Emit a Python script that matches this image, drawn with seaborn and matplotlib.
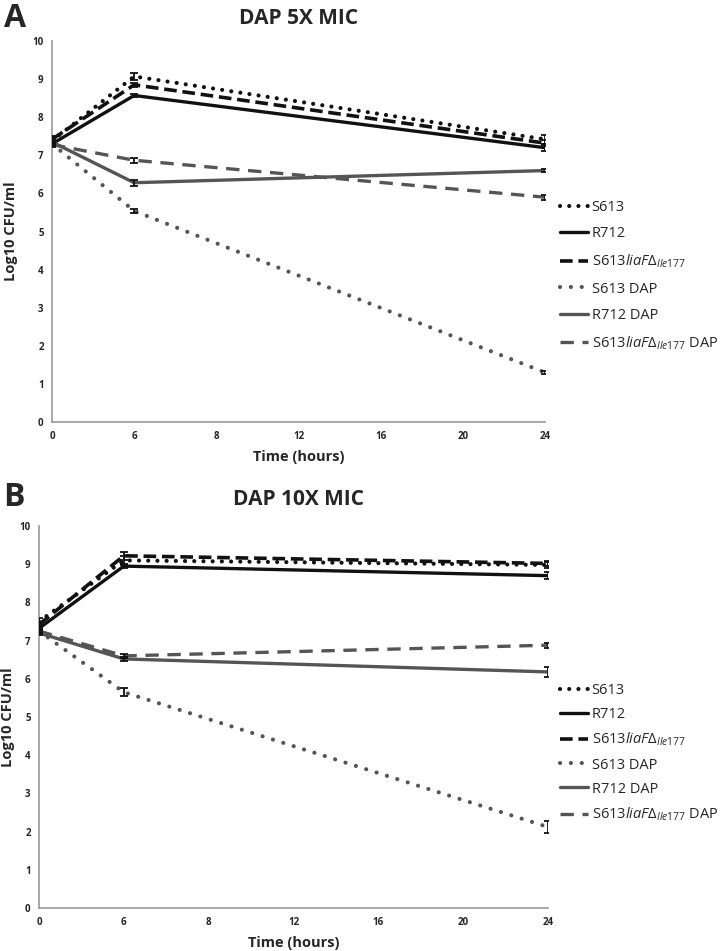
import pandas as pd
import matplotlib.pyplot as plt
import seaborn as sns

## Data

hour_ticks = [0, 6, 8, 12, 16, 20, 24]
sample_hours = [0, 6, 24]

series_names = [
    "S613",
    "R712",
    r"S613$\mathit{liaF\Delta}_{\mathit{Ile177}}$",
    "S613 DAP",
    "R712 DAP",
    r"S613$\mathit{liaF\Delta}_{\mathit{Ile177}}$ DAP",
]

# panel A, DAP 5X MIC
a_s613 = [7.38, 9.07, 7.42]
a_r712 = [7.30, 8.57, 7.20]
a_liaf = [7.42, 8.85, 7.32]
a_s613_dap = [7.30, 5.54, 1.30]
a_r712_dap = [7.35, 6.28, 6.60]
a_liaf_dap = [7.28, 6.87, 5.90]

a_s613_err = [0.08, 0.10, 0.12]
a_r712_err = [0.06, 0.05, 0.10]
a_liaf_err = [0.08, 0.05, 0.08]
a_s613_dap_err = [0.05, 0.05, 0.03]
a_r712_dap_err = [0.05, 0.08, 0.05]
a_liaf_dap_err = [0.05, 0.07, 0.07]

# panel B, DAP 10X MIC
b_s613 = [7.50, 9.10, 8.98]
b_r712 = [7.32, 8.95, 8.70]
b_liaf = [7.42, 9.22, 9.02]
b_s613_dap = [7.25, 5.65, 2.12]
b_r712_dap = [7.20, 6.52, 6.18]
b_liaf_dap = [7.25, 6.60, 6.88]

b_s613_err = [0.08, 0.12, 0.08]
b_r712_err = [0.05, 0.06, 0.10]
b_liaf_err = [0.06, 0.10, 0.06]
b_s613_dap_err = [0.05, 0.10, 0.15]
b_r712_dap_err = [0.05, 0.06, 0.12]
b_liaf_dap_err = [0.05, 0.05, 0.07]

styles = [
    dict(color="#111111", lw=3.0, dashes=(0.01, 2.2), dash_capstyle="round"),
    dict(color="#111111", lw=2.4),
    dict(color="#111111", lw=2.6, dashes=(3.5, 1.6)),
    dict(color="#555555", lw=3.0, dashes=(0.01, 2.6), dash_capstyle="round"),
    dict(color="#555555", lw=2.4),
    dict(color="#555555", lw=2.4, dashes=(4.0, 2.6)),
]


def draw_panel(ax, values, errors, title, letter, legend_y, spacing, ylab_x):
    xpos = [hour_ticks.index(h) for h in sample_hours]
    for name, vals, errs, st in zip(series_names, values, errors, styles):
        df = pd.DataFrame({"pos": xpos, "cfu": vals})
        st = dict(st)
        dashes = st.pop("dashes", None)
        sns.lineplot(data=df, x="pos", y="cfu", ax=ax, label=name, **st)
        if dashes is not None:
            ax.lines[-1].set_dashes(dashes)
        ax.errorbar(xpos, vals, yerr=errs, fmt="none", ecolor="#111111",
                    elinewidth=1.3, capsize=3, capthick=1.3, zorder=5)

    ax.set_xlim(0, len(hour_ticks) - 1)
    ax.set_ylim(0, 10)
    ax.set_xticks(range(len(hour_ticks)))
    ax.set_xticklabels([str(h) for h in hour_ticks])
    ax.set_yticks(range(0, 11))
    for lab in ax.get_xticklabels() + ax.get_yticklabels():
        lab.set_fontweight("bold")
        lab.set_fontsize(7)
    ax.tick_params(axis="x", direction="inout", length=5, color="#999999", width=1, pad=4)
    ax.tick_params(axis="y", direction="out", length=3, color="#999999", width=1, pad=3)
    sns.despine(ax=ax)
    for sp in ["left", "bottom"]:
        ax.spines[sp].set_color("#999999")
        ax.spines[sp].set_linewidth(1.2)

    ax.set_xlabel("Time (hours)", fontsize=10.5, fontweight="bold", labelpad=6)
    ax.set_ylabel("Log10 CFU/ml", fontsize=10.5, fontweight="bold")
    ax.yaxis.set_label_coords(ylab_x, 0.5)

    fig = ax.figure
    bb = ax.get_position()
    fig.text(0.415, bb.y1 + title[1], title[0],
             ha="center", va="center", fontsize=15, fontweight="bold")
    fig.text(0.005, bb.y1 + letter[1], letter[0], ha="left", va="center",
             fontsize=23, fontweight="bold")

    ax.legend(loc="upper left", bbox_to_anchor=(0.778, legend_y),
              bbox_transform=fig.transFigure, frameon=False,
              fontsize=10.5, handlelength=1.9, handletextpad=0.25,
              labelspacing=spacing, borderaxespad=0, borderpad=0)


sns.set_theme(style="white")
plt.rcParams["font.family"] = ["Open Sans", "DejaVu Sans"]
plt.rcParams["mathtext.fontset"] = "custom"
plt.rcParams["mathtext.rm"] = "Open Sans"
plt.rcParams["mathtext.it"] = "Open Sans:italic"

fig = plt.figure(figsize=(7.2, 9.51), dpi=100)
ax_a = fig.add_axes([52 / 720, 1 - 422 / 951, 493 / 720, 381 / 951])
ax_b = fig.add_axes([39 / 720, 1 - 908 / 951, 509 / 720, 382 / 951])

draw_panel(
    ax_a,
    [a_s613, a_r712, a_liaf, a_s613_dap, a_r712_dap, a_liaf_dap],
    [a_s613_err, a_r712_err, a_liaf_err, a_s613_dap_err, a_r712_dap_err, a_liaf_dap_err],
    ("DAP 5X MIC", 0.0236),
    ("A", 0.0236),
    1 - 200 / 951,
    0.78,
    -0.068,
)
draw_panel(
    ax_b,
    [b_s613, b_r712, b_liaf, b_s613_dap, b_r712_dap, b_liaf_dap],
    [b_s613_err, b_r712_err, b_liaf_err, b_s613_dap_err, b_r712_dap_err, b_liaf_dap_err],
    ("DAP 10X MIC", 0.0275),
    ("B", 0.0295),
    1 - 683 / 951,
    0.62,
    -0.048,
)

plt.savefig("out.png", dpi=100)
